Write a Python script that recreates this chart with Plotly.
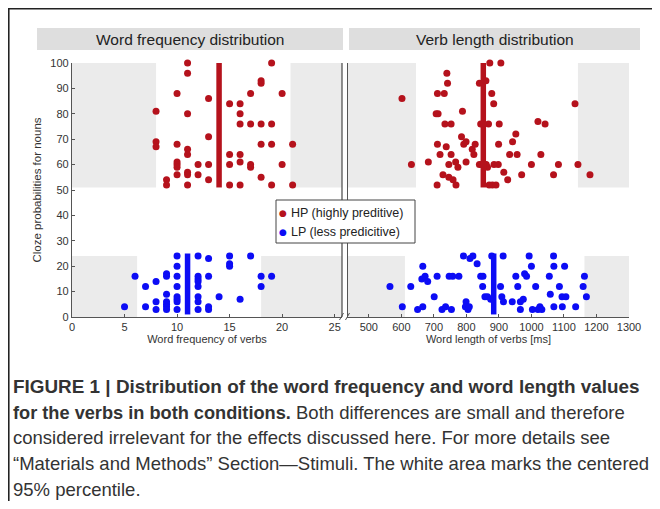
import plotly.graph_objects as go

# The page body has an 8px margin on every side, so the figure is made 16px
# smaller than the window and every position below is given in window pixels.
OFF = 8
W, H = 660 - 2 * OFF, 509 - 2 * OFF

# ---------------- data ----------------
# Word frequency (left panel)
wf_hp_x = [8, 8, 8, 9, 9, 10, 10, 10, 10, 10, 10, 11, 11, 11, 11, 11, 11, 11, 11,
           12, 12, 13, 13, 13, 13, 15, 15, 15, 15, 16, 16, 16, 16, 16, 16,
           17, 17, 17, 17, 18, 18, 18, 18, 18, 19, 19, 19, 19, 20, 20, 21, 21]
wf_hp_y = [81, 69, 67, 54, 52, 88, 68, 61, 60, 59, 56, 100, 96, 80, 66, 64, 57, 56, 52,
           60, 56, 86, 71, 60, 54, 84, 64, 60, 52, 84, 80, 76, 64, 61, 52,
           88, 76, 60, 59, 93, 92, 76, 68, 55, 100, 76, 68, 52, 88, 60, 68, 52]

wf_lp_x = [5, 6, 7, 7, 8, 8, 8, 9, 9, 9, 9, 9, 9, 9, 10, 10, 10, 10, 10, 10, 10, 10,
           12, 12, 12, 12, 12, 12, 12, 12, 13, 13, 13, 13, 14, 15, 15, 15, 16, 17, 18, 18, 19]
wf_lp_y = [4, 16, 12, 4, 14, 6, 3, 17, 16, 9, 6, 5, 4, 3, 24, 20, 16, 12, 8, 7, 6, 3,
           24, 16, 15, 14, 12, 8, 6, 3, 23, 16, 4, 3, 8, 24, 21, 20, 7, 24, 16, 12, 16]

# Verb length (right panel)
vl_hp_x = [602, 631, 683, 710, 711, 711, 707, 713, 719, 728, 732, 734, 738, 740, 742, 746, 746,
           753, 753, 759, 767, 768, 774, 785, 788, 792, 799, 799, 818, 823, 827, 840, 840, 844,
           847, 860, 856, 861, 865, 868, 870, 872, 878, 880, 884, 885, 891, 898, 899, 901, 906,
           915, 927, 933, 942, 952, 956, 970, 1000, 1020, 1029, 1042, 1068, 1083, 1134, 1143, 1180]
vl_hp_y = [86, 60, 61, 52, 88, 68, 80, 80, 64, 56, 88, 76, 67, 96, 92, 60, 55,
           76, 64, 54, 61, 52, 59, 71, 81, 68, 61, 69, 66, 64, 68, 92, 60, 76,
           60, 93, 60, 60, 59, 76, 52, 100, 88, 52, 84, 60, 52, 60, 68, 76, 100,
           57, 54, 64, 69, 72, 64, 56, 60, 77, 64, 76, 56, 60, 84, 60, 56]

vl_lp_x = [565, 603, 629, 650, 663, 666, 666, 673, 681, 701, 710, 725, 736, 747, 754, 758, 777,
           791, 799, 797, 805, 809, 811, 820, 833, 844, 851, 850, 857, 865, 875, 878, 905, 909,
           913, 914, 941, 952, 958, 966, 966, 975, 979, 985, 993, 1000, 1003, 1013, 1020, 1026,
           1032, 1055, 1058, 1068, 1069, 1069, 1086, 1094, 1095, 1102, 1106, 1136, 1159, 1163, 1169]
vl_lp_y = [12, 4, 12, 3, 15, 20, 4, 16, 14, 8, 16, 3, 4, 16, 3, 16, 16,
           24, 6, 4, 3, 4, 23, 24, 21, 16, 16, 12, 8, 8, 7, 24, 12, 8,
           24, 6, 6, 16, 12, 3, 6, 7, 17, 16, 24, 20, 3, 12, 3, 4,
           3, 16, 9, 24, 20, 4, 12, 8, 4, 20, 8, 4, 12, 16, 8]

# medians (thick vertical bars) and their y extents
wf_hp_median, wf_lp_median = 14, 11
vl_hp_median, vl_lp_median = 852, 884
hp_bar_y = [51, 100]
lp_bar_y = [1, 25]

# centered 95% percentile limits (outside = grey)
wf_hp_limits = [8, 20.8]
wf_lp_limits = [6.2, 18]
vl_hp_limits = [645, 1143]
vl_lp_limits = [611, 1163]
hp_band_y = [51, 100]
lp_band_y = [0, 24]

wf_range = [0, 25.7]
vl_range = [436, 1300]
y_range = [0, 100]

wf_ticks = [0, 5, 10, 15, 20, 25]
vl_ticks = [500, 600, 700, 800, 900, 1000, 1100, 1200, 1300]
y_ticks = [0, 10, 20, 30, 40, 50, 60, 70, 80, 90, 100]

panel_titles = ["Word frequency distribution", "Verb length distribution"]
x_titles = ["Word frequency of verbs", "Word length of verbs [ms]"]
y_title = "Cloze probabilities for nouns"
legend_names = ["HP (highly preditive)", "LP (less predicitive)"]

BOLD = '<b><span style="font-size:{}px">{}</span></b>'
caption_lines = [
    BOLD.format(18.9, "FIGURE 1 | Distribution of the word frequency and word length values"),
    BOLD.format(18.2, "for the verbs in both conditions.") + " Both differences are small and therefore",
    "considered irrelevant for the effects discussed here. For more details see",
    "\u201cMaterials and Methods\u201d Section\u2014Stimuli. The white area marks the centered",
    "95% percentile.",
]

# ---------------- style ----------------
RED = "rgb(181,18,28)"
BLUE = "rgb(12,12,245)"
GREY_BAND = "#ebebeb"
AXIS = "#555555"
FONT = "Liberation Sans, Arial, sans-serif"


def px(x):
    return (x - OFF) / W


def py(y):
    return 1 - (y - OFF) / H


fig = go.Figure()

# scatter points
fig.add_trace(go.Scatter(x=wf_hp_x, y=wf_hp_y, mode="markers", xaxis="x", yaxis="y",
                         marker=dict(color=RED, size=7), name=legend_names[0],
                         legendgroup="hp", cliponaxis=False))
fig.add_trace(go.Scatter(x=wf_lp_x, y=wf_lp_y, mode="markers", xaxis="x", yaxis="y",
                         marker=dict(color=BLUE, size=7), name=legend_names[1],
                         legendgroup="lp", cliponaxis=False))
fig.add_trace(go.Scatter(x=vl_hp_x, y=vl_hp_y, mode="markers", xaxis="x2", yaxis="y2",
                         marker=dict(color=RED, size=7), name=legend_names[0],
                         legendgroup="hp", cliponaxis=False))
fig.add_trace(go.Scatter(x=vl_lp_x, y=vl_lp_y, mode="markers", xaxis="x2", yaxis="y2",
                         marker=dict(color=BLUE, size=7), name=legend_names[1],
                         legendgroup="lp", cliponaxis=False))

# median bars
for med, yy, col, xa, ya in [(wf_hp_median, hp_bar_y, RED, "x", "y"),
                             (wf_lp_median, lp_bar_y, BLUE, "x", "y"),
                             (vl_hp_median, hp_bar_y, RED, "x2", "y2"),
                             (vl_lp_median, lp_bar_y, BLUE, "x2", "y2")]:
    fig.add_trace(go.Scatter(x=[med, med], y=yy, mode="lines", xaxis=xa, yaxis=ya,
                             line=dict(color=col, width=5.5), hoverinfo="skip",
                             cliponaxis=False))

shapes = []
# grey bands
for lims, band, xr, rng, yr in [(wf_hp_limits, hp_band_y, "x", wf_range, "y"),
                                (wf_lp_limits, lp_band_y, "x", wf_range, "y"),
                                (vl_hp_limits, hp_band_y, "x2", vl_range, "y2"),
                                (vl_lp_limits, lp_band_y, "x2", vl_range, "y2")]:
    shapes.append(dict(type="rect", xref=xr, yref=yr, x0=rng[0], x1=lims[0], y0=band[0], y1=band[1],
                       fillcolor=GREY_BAND, line=dict(width=0), layer="below"))
    shapes.append(dict(type="rect", xref=xr, yref=yr, x0=lims[1], x1=rng[1], y0=band[0], y1=band[1],
                       fillcolor=GREY_BAND, line=dict(width=0), layer="below"))

# right border of the left panel (axis break)
shapes.append(dict(type="line", xref="x domain", yref="y domain", x0=1, x1=1, y0=0, y1=1,
                   line=dict(color=AXIS, width=1.3)))
# break slashes
for x0 in [339.5, 345.5]:
    shapes.append(dict(type="line", xref="paper", yref="paper",
                       x0=px(x0), x1=px(x0 + 4), y0=py(320), y1=py(313),
                       line=dict(color=AXIS, width=1)))

# panel title bars
for (a, b) in [(37, 343), (349, 640)]:
    shapes.append(dict(type="rect", xref="paper", yref="paper", x0=px(a), x1=px(b),
                       y0=py(50), y1=py(28), fillcolor="#dedede", line=dict(width=0)))

# outer frame (continues past the right and bottom edges)
shapes.append(dict(type="rect", xref="paper", yref="paper", x0=0.0012, x1=1.05,
                   y0=-0.05, y1=0.9985, line=dict(color="#222222", width=1.6),
                   fillcolor="rgba(0,0,0,0)"))

# legend box (drawn by hand so the symbols sit close to the text)
LEG_L, LEG_R, LEG_T, LEG_B = 276, 415, 200, 243
shapes.append(dict(type="rect", xref="paper", yref="paper", x0=px(LEG_L), x1=px(LEG_R),
                   y0=py(LEG_B), y1=py(LEG_T), fillcolor="white",
                   line=dict(color="#444444", width=1), layer="above"))

annotations = []
for name, col, yc in [(legend_names[0], RED, 213), (legend_names[1], BLUE, 232)]:
    annotations.append(dict(text="\u25cf", x=px(283), y=py(yc), xref="paper", yref="paper",
                            showarrow=False, xanchor="center", yanchor="middle",
                            font=dict(size=9, color=col, family="DejaVu Sans")))
    annotations.append(dict(text=name, x=px(289), y=py(yc), xref="paper", yref="paper",
                            showarrow=False, xanchor="left", yanchor="middle",
                            font=dict(size=12.5, color="#222222", family=FONT)))

for t, cx in zip(panel_titles, [190, 494.5]):
    annotations.append(dict(text=t, x=px(cx), y=py(39), xref="paper", yref="paper",
                            showarrow=False, xanchor="center", yanchor="middle",
                            font=dict(size=15.5, color="#222222", family=FONT)))
for i, line in enumerate(caption_lines):
    annotations.append(dict(text=line, x=px(12), y=py(386.5 + 25.7 * i), xref="paper", yref="paper",
                            showarrow=False, xanchor="left", yanchor="middle", borderpad=0,
                            font=dict(size=18.5, color="#333333", family=FONT)))

axis_common = dict(showgrid=False, zeroline=False, showline=True, linecolor=AXIS, linewidth=1.3,
                   ticks="inside", ticklen=3, tickcolor=AXIS,
                   tickfont=dict(size=11, color="#333333", family=FONT))

fig.update_layout(
    width=W, height=H,
    margin=dict(l=0, r=0, t=0, b=0, autoexpand=False),
    paper_bgcolor="white", plot_bgcolor="white",
    font=dict(family=FONT, color="#333333"),
    xaxis=dict(domain=[px(72), px(342)], range=wf_range, tickvals=wf_ticks, anchor="y",
               title=dict(text=x_titles[0], font=dict(size=11, color="#333333"), standoff=2),
               **axis_common),
    xaxis2=dict(domain=[px(348), px(629)], range=vl_range, tickvals=vl_ticks, anchor="y2",
                title=dict(text=x_titles[1], font=dict(size=11, color="#333333"), standoff=2),
                **axis_common),
    yaxis=dict(domain=[py(317), py(63)], range=y_range, tickvals=y_ticks, anchor="x",
               title=dict(text=y_title, font=dict(size=11.5, color="#333333"), standoff=6),
               **axis_common),
    yaxis2=dict(domain=[py(317), py(63)], range=y_range, anchor="x2", matches="y",
                showgrid=False, zeroline=False, showline=True, linecolor=AXIS, linewidth=1.3,
                showticklabels=False, ticks=""),
    shapes=shapes,
    annotations=annotations,
    showlegend=False,
)

fig.write_html("out.html")
